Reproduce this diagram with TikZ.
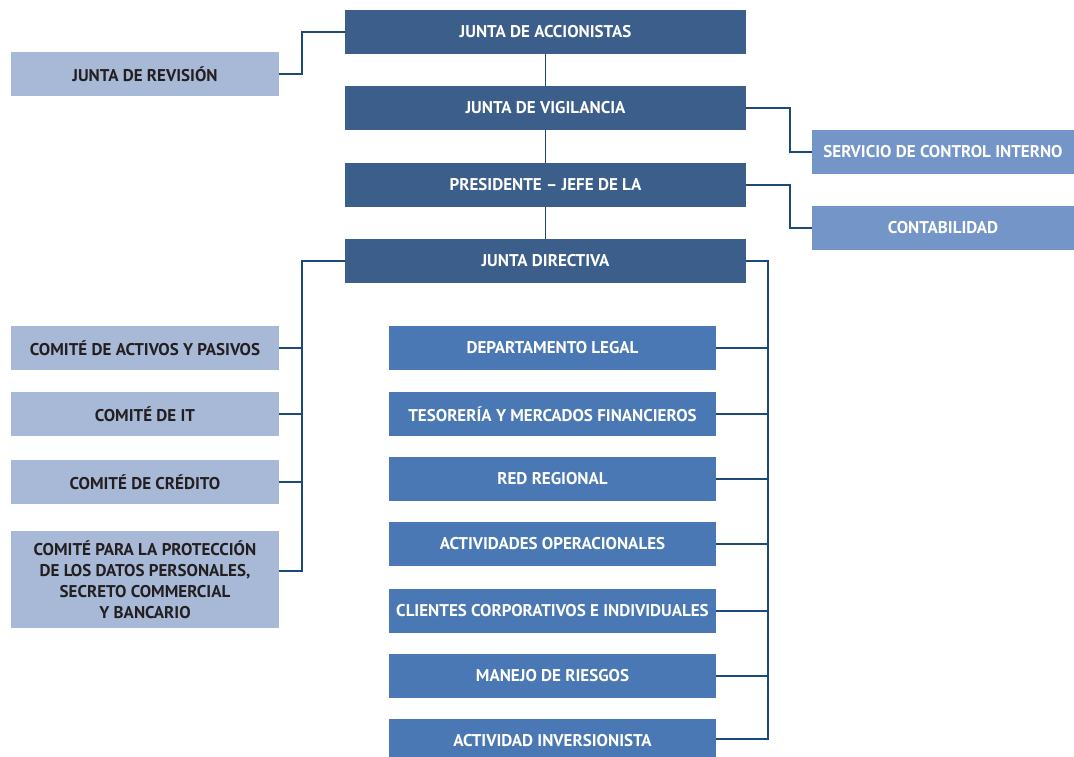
\documentclass[tikz,border=0pt]{standalone}
\usepackage{fontspec}
\setmainfont{PT Sans}
\usepackage{tikz}
\usetikzlibrary{calc}
\usepackage{xcolor}

\definecolor{darkblue}{HTML}{3B5E8A}
\definecolor{midblue}{HTML}{4A78B4}
\definecolor{softblue}{HTML}{7495C8}
\definecolor{paleblue}{HTML}{A8B9D8}
\definecolor{linkblue}{HTML}{1B4A78}
\definecolor{inkdark}{HTML}{231F20}

\begin{document}
\begin{tikzpicture}[x=1pt,y=-1pt
                    ]
                % define styles
\tikzset{mainbox/.style={rectangle,
                       fill=darkblue,
                       text=white,
                       inner sep=0,
                       minimum width=401pt,
                       minimum height=44pt,
                       font=\bfseries\fontsize{17}{21}\selectfont,
                       },
         sidebox/.style={rectangle,
                       fill=softblue,
                       text=white,
                       inner sep=0,
                       minimum width=262pt,
                       minimum height=44pt,
                       font=\bfseries\fontsize{17}{21}\selectfont,
                       },
         combox/.style={rectangle,
                       fill=paleblue,
                       text=inkdark,
                       inner sep=0,
                       align=center,
                       minimum width=268pt,
                       minimum height=44pt,
                       font=\bfseries\fontsize{17}{21}\selectfont,
                       },
         depbox/.style={rectangle,
                       fill=midblue,
                       text=white,
                       inner sep=0,
                       minimum width=327pt,
                       minimum height=44pt,
                       font=\bfseries\fontsize{17}{21}\selectfont,
                       },
         link/.style={draw=linkblue,
                       line width=1.6pt,
                       }
}

% canvas
\useasboundingbox (0,0) rectangle (1074,756);

% nodes
\node[mainbox]   (accion)  at  (545.5,32)    {JUNTA DE ACCIONISTAS};
\node[mainbox]   (vigil)   at  (545.5,108)   {JUNTA DE VIGILANCIA};
\node[mainbox]   (presid)  at  (545.5,185)   {PRESIDENTE – JEFE DE LA};
\node[mainbox]   (direct)  at  (545.5,261)   {JUNTA DIRECTIVA};

\node[combox]    (revis)   at  (145,74)      {JUNTA DE REVISIÓN};
\node[sidebox]   (servic)  at  (943,152)     {SERVICIO DE CONTROL INTERNO};
\node[sidebox]   (contab)  at  (943,228)     {CONTABILIDAD};

\foreach \name/\y/\txt in {com1/348/{COMITÉ DE ACTIVOS Y PASIVOS},
                           com2/414/{COMITÉ DE IT},
                           com3/482/{COMITÉ DE CRÉDITO}}
    \node[combox] (\name) at (145,\y) {\txt};
\node[combox,minimum height=97pt] (com4) at (145,579.5)
    {COMITÉ PARA LA PROTECCIÓN\\DE LOS DATOS PERSONALES,\\SECRETO COMMERCIAL\\Y BANCARIO};

\foreach \name/\y/\txt in {dep1/348/{DEPARTAMENTO LEGAL},
                           dep2/414/{TESORERÍA Y MERCADOS FINANCIEROS},
                           dep3/479/{RED REGIONAL},
                           dep4/544/{ACTIVIDADES OPERACIONALES},
                           dep5/611/{CLIENTES CORPORATIVOS E INDIVIDUALES},
                           dep6/676/{MANEJO DE RIESGOS},
                           dep7/741/{ACTIVIDAD INVERSIONISTA}}
    \node[depbox] (\name) at (552.5,\y) {\txt};

% bus ends
\coordinate (lbus) at (302,571);
\coordinate (rbus) at (768,739);

% links
\draw[link] (accion) -- (vigil);
\draw[link] (vigil) -- (presid);
\draw[link] (presid) -- (direct);
\draw[link] (revis.east) -- ++(23,0) |- (accion.west);
\draw[link] (vigil.east) -- ++(44,0) |- (servic.west);
\draw[link] (presid.east) -- ++(44,0) |- (contab.west);

\draw[link] (direct.west) -| (lbus) -- (lbus -| com4.east);
\foreach \i in {1,2,3}
    \draw[link] (com\i.east) -- (com\i.east -| lbus);

\draw[link] (direct.east) -| (rbus) -- (rbus -| dep7.east);
\foreach \i in {1,...,6}
    \draw[link] (dep\i.east) -- (dep\i.east -| rbus);

\end{tikzpicture}
\end{document}
